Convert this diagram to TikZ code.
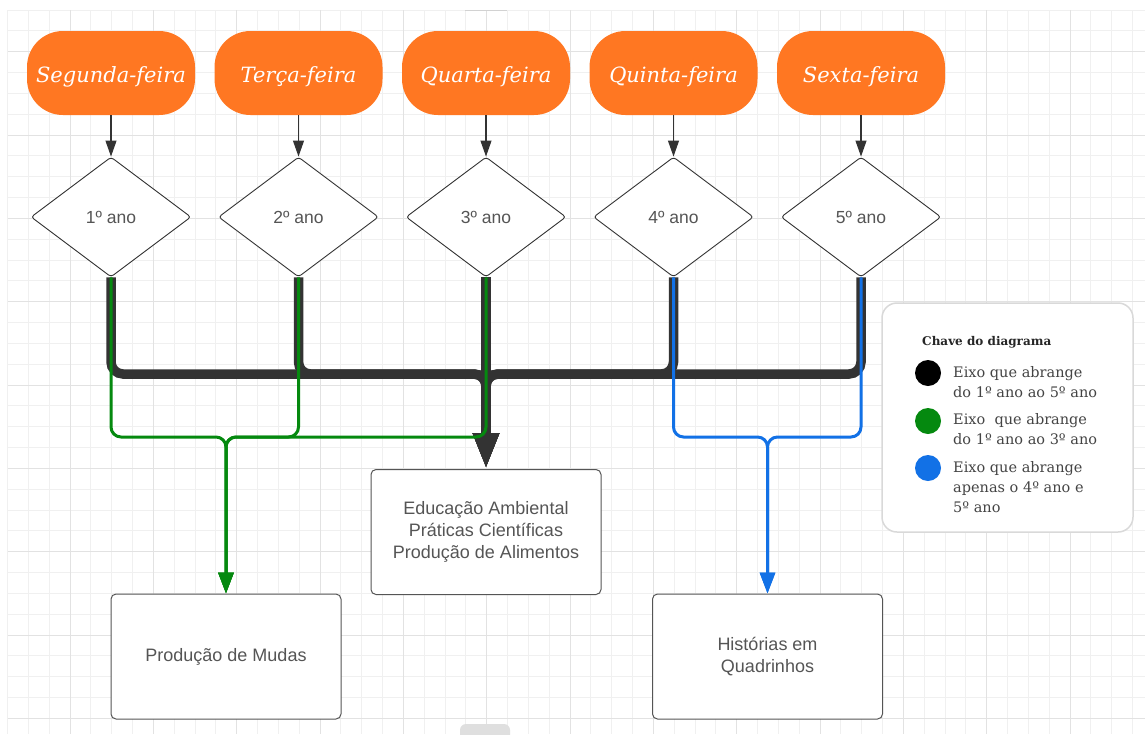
\documentclass[tikz,border=0pt]{standalone}
\usepackage{fontspec}
\setmainfont{Liberation Sans}
\newfontfamily\dayfont{DejaVu Serif}
\newfontfamily\keyfont{DejaVu Serif}
\usetikzlibrary{positioning,shapes.geometric,arrows.meta}

\definecolor{dayorange}{HTML}{FF7722}
\definecolor{axisblack}{HTML}{333333}
\definecolor{axisgreen}{HTML}{05890F}
\definecolor{axisblue}{HTML}{1271E6}
\definecolor{textgray}{HTML}{555555}
\definecolor{keygray}{HTML}{444444}
\definecolor{gridminor}{HTML}{F0F0F0}
\definecolor{gridmajor}{HTML}{E2E2E2}

\begin{document}
\begin{tikzpicture}[x=1pt,y=-1pt,node distance=187.5pt,thin,
	day node/.style = {rectangle, rounded corners=36pt, fill=dayorange, minimum width=168pt, minimum height=84pt, inner sep=0pt, text height=18pt, text depth=0pt, text=white, font=\dayfont\itshape\fontsize{21}{25}\selectfont},
	year node/.style = {diamond, draw=axisblack, line width=0.9pt, fill=white, rounded corners=3pt, minimum width=160pt, minimum height=120pt, aspect=1.333, inner sep=0pt, text=textgray, font=\fontsize{17.5}{21}\selectfont},
	box node/.style = {rectangle, draw=textgray, fill=white, rounded corners=5pt, line width=1pt, minimum width=230pt, minimum height=125pt, align=center, text=textgray, font=\fontsize{18}{22}\selectfont},
	dot node/.style = {circle, inner sep=0pt, minimum size=26pt},
	key text/.style = {anchor=north west, inner sep=0pt, align=left, text=keygray, font=\keyfont\fontsize{14.5}{20}\selectfont},
	day arrow/.style = {draw=axisblack, line width=1.1pt, -{Triangle[length=16pt,width=11pt]}},
	black axis/.style = {draw=axisblack, line width=9.5pt, rounded corners=12pt, -{Triangle[length=36pt,width=24pt]}},
	green axis/.style = {draw=axisgreen, line width=3pt, rounded corners=10pt, -{Triangle[length=21pt,width=15pt]}},
	blue axis/.style = {draw=axisblue, line width=3pt, rounded corners=10pt, -{Triangle[length=21pt,width=15pt]}}]

	\useasboundingbox (0,0) rectangle (1145,734);
	\fill[white] (0,0) rectangle (1145,734);

	% grid of the canvas
	\foreach \i in {0,...,54}
		\draw[gridminor, line width=0.8pt] ({7.5+20.833*\i},10) -- ({7.5+20.833*\i},734);
	\foreach \j in {0,...,34}
		\draw[gridminor, line width=0.8pt] (7.5,{10+20.833*\j}) -- (1145,{10+20.833*\j});
	\foreach \i in {0,...,12}
		\draw[gridmajor, line width=0.8pt] ({70+83.333*\i},10) -- ({70+83.333*\i},734);
	\foreach \j in {0,...,8}
		\draw[gridmajor, line width=0.8pt] (7.5,{51.67+83.333*\j}) -- (1145,{51.67+83.333*\j});
	\draw[gray!35, line width=1.5pt] (465,10.5) -- (507,10.5);
	\fill[gray!25, rounded corners=6pt] (460,724) rectangle (510,742);

	% days
	\node[day node] at (111,73) (seg) {Segunda-feira};
	\node[day node] [right of = seg] (ter) {Terça-feira};
	\node[day node] [right of = ter] (qua) {Quarta-feira};
	\node[day node] [right of = qua] (qui) {Quinta-feira};
	\node[day node] [right of = qui] (sex) {Sexta-feira};

	% years
	\node[year node] [below of = seg, node distance=144pt] (ano1) {1º ano};
	\node[year node] [below of = ter, node distance=144pt] (ano2) {2º ano};
	\node[year node] [below of = qua, node distance=144pt] (ano3) {3º ano};
	\node[year node] [below of = qui, node distance=144pt] (ano4) {4º ano};
	\node[year node] [below of = sex, node distance=144pt] (ano5) {5º ano};

	\foreach \d/\a in {seg/ano1, ter/ano2, qua/ano3, qui/ano4, sex/ano5}
		\path[day arrow] (\d) -- (\a);

	% themes
	\node[box node] at (486,532) (educ) {Educação Ambiental\\Práticas Científicas\\Produção de Alimentos};
	\node[box node] at (226,656.5) (mudas) {Produção de Mudas};
	\node[box node] at (767.5,656.5) (hq) {Histórias em\\Quadrinhos};

	\coordinate (bjoin) at (486,374);
	\coordinate (gjoin) at (226,437);
	\coordinate (ujoin) at (767.5,437);

	% axes
	\path[black axis] (ano1.south) |- (bjoin) -- (educ.north);
	\path[black axis] (ano2.south) |- (bjoin) -- (educ.north);
	\path[black axis] (ano3.south) -- (educ.north);
	\path[black axis] (ano4.south) |- (bjoin) -- (educ.north);
	\path[black axis] (ano5.south) |- (bjoin) -- (educ.north);

	\path[green axis] (ano1.south) |- (gjoin) -- (mudas.north);
	\path[green axis] (ano2.south) |- (gjoin) -- (mudas.north);
	\path[green axis] (ano3.south) |- (gjoin) -- (mudas.north);

	\path[blue axis] (ano4.south) |- (ujoin) -- (hq.north);
	\path[blue axis] (ano5.south) |- (ujoin) -- (hq.north);

	% key
	\node[draw=gray!30, fill=white, line width=1.5pt, rounded corners=15pt, minimum width=251pt, minimum height=229pt] at (1007.5,417.5) (key) {};
	\node[anchor=base west, inner sep=0pt, font=\keyfont\bfseries\fontsize{12}{14}\selectfont, text=black!85] at (922,345) (keytitle) {Chave do diagrama};
	\node[dot node, fill=black] at (928,373) (dot1) {};
	\node[dot node, fill=axisgreen] at (928,421) (dot2) {};
	\node[dot node, fill=axisblue] at (928,468) (dot3) {};
	\node[key text] at (953,366) (key1) {Eixo que abrange\\do 1º ano ao 5º ano};
	\node[key text] at (953,413) (key2) {Eixo\ \ que abrange\\do 1º ano ao 3º ano};
	\node[key text] at (953,461) (key3) {Eixo que abrange\\apenas o 4º ano e\\5º ano};

\end{tikzpicture}
\end{document}
